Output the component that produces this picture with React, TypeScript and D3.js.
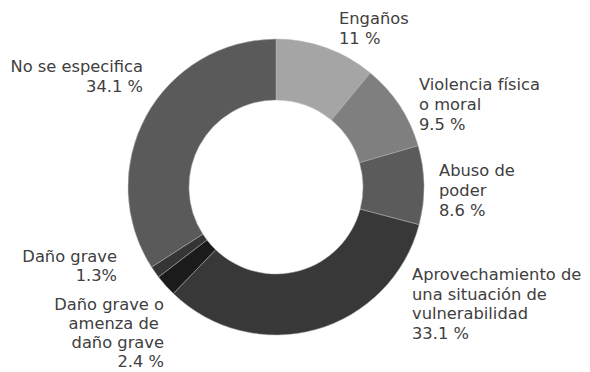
import React from "react";
import * as d3 from "d3";

const categories = [
  "Engaños",
  "Violencia física o moral",
  "Abuso de poder",
  "Aprovechamiento de una situación de vulnerabilidad",
  "Daño grave o amenaza de daño grave",
  "Daño grave",
  "No se especifica",
];
const values = [11, 9.5, 8.6, 33.1, 2.4, 1.3, 34.1];
const colors = ["#a5a5a5", "#7f7f7f", "#5b5b5b", "#383838", "#1b1b1b", "#353535", "#5a5a5a"];
const labelLines = [
  ["Engaños", "11 %"],
  ["Violencia física", "o moral", "9.5 %"],
  ["Abuso de", "poder", "8.6 %"],
  ["Aprovechamiento de", "una situación de", "vulnerabilidad", "33.1 %"],
  ["Daño grave o", "amenza de\u00a0", "daño grave", "2.4 %"],
  ["Daño grave", "1.3%"],
  ["No se especifica", "34.1 %"],
];
// label anchor positions (x, first baseline, anchor, line height)
const labelPos: [number, number, "start" | "end", number][] = [
  [339, 24, "start", 20],
  [419, 90, "start", 20],
  [439, 176, "start", 20],
  [412, 280, "start", 19.5],
  [164, 310, "end", 19],
  [117, 262, "end", 19],
  [143, 72, "end", 20],
];

export default function App() {
  const W = 590, H = 372;
  const cx = 276, cy = 187;
  const pie = d3.pie<number>().sort(null).value((d) => d);
  const arcs = pie(values);
  const arc = d3.arc<d3.PieArcDatum<number>>().innerRadius(87).outerRadius(148);
  return (
    <svg width={W} height={H} style={{ position: "absolute", left: 0, top: 0, background: "#fff" }}>
      <g transform={`translate(${cx},${cy})`}>
        {arcs.map((a, i) => (
          <path key={categories[i]} d={arc(a) || ""} fill={colors[i]} stroke="#b0b0b0" strokeWidth={0.5} />
        ))}
      </g>
      <g fontFamily="'DejaVu Sans', sans-serif" fontSize={16.3} fill="#404040">
        {labelLines.map((lines, i) => {
          const [x, y, anchor, lh] = labelPos[i];
          return (
            <text key={categories[i]} x={x} y={y} textAnchor={anchor} style={{ whiteSpace: "pre" }}>
              {lines.map((l, j) => (
                <tspan key={j} x={x} y={y + j * lh}>
                  {l}
                </tspan>
              ))}
            </text>
          );
        })}
      </g>
    </svg>
  );
}
